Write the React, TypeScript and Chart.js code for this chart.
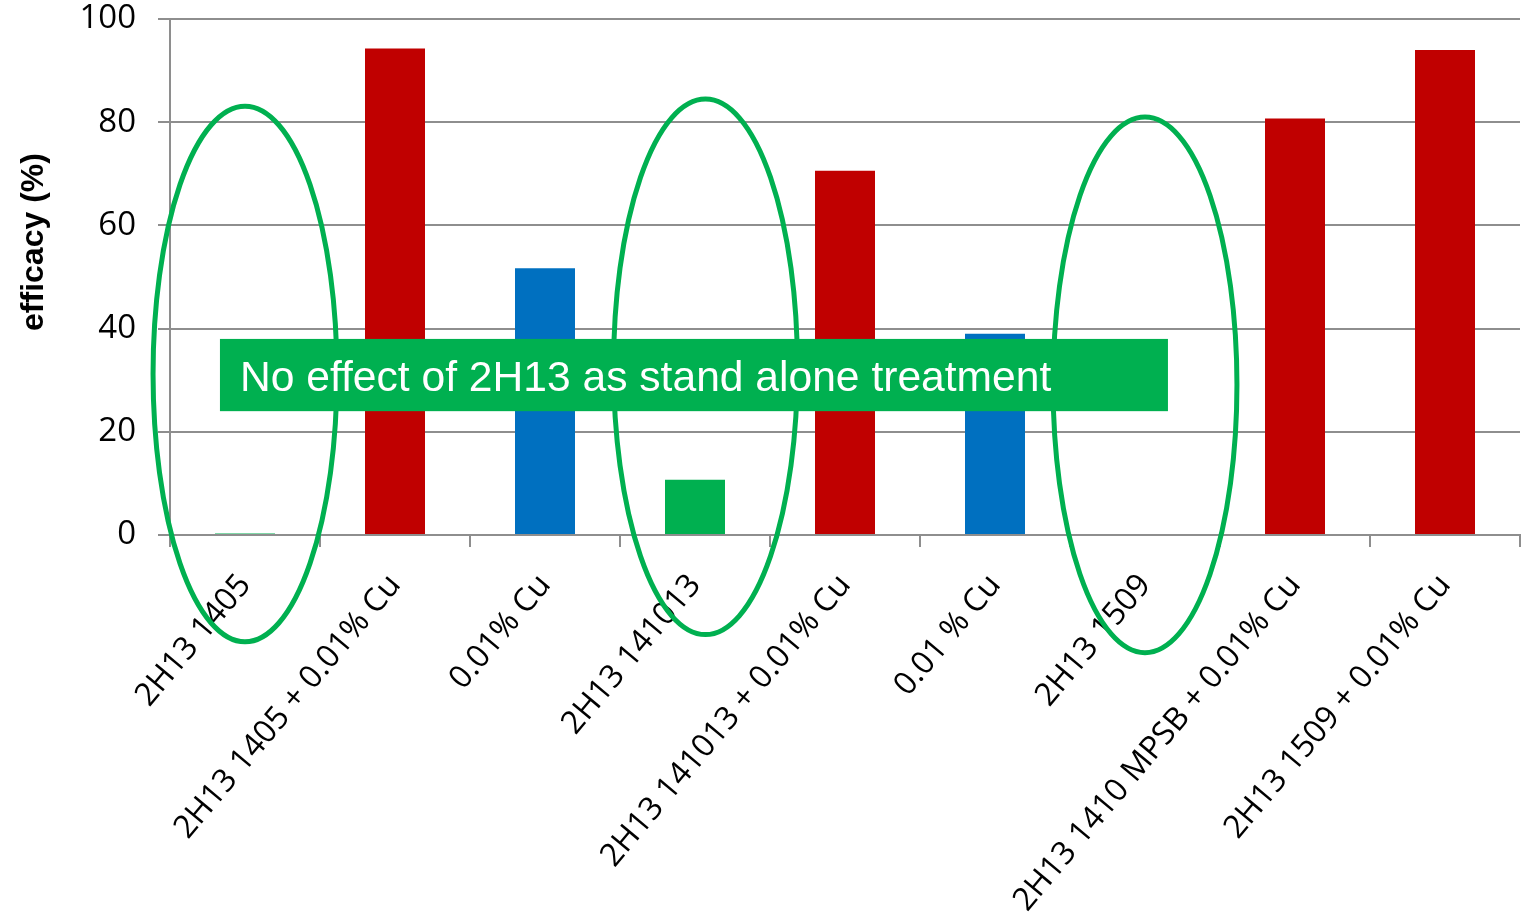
import React, { useEffect, useRef } from "react";
import { Chart, registerables } from "chart.js";

Chart.register(...registerables);

const categories = [
  "2H13 1405",
  "2H13 1405 + 0.01% Cu",
  "0.01% Cu",
  "2H13 141013",
  "2H13 141013 + 0.01% Cu",
  "0.01 % Cu",
  "2H13 1509",
  "2H13 1410 MPSB + 0.01% Cu",
  "2H13 1509 + 0.01% Cu",
];
const efficacy = [0.3, 94.3, 51.7, 10.7, 70.6, 39.0, 0, 80.7, 94.0];
const barColors = [
  "#00b050",
  "#c00000",
  "#0070c0",
  "#00b050",
  "#c00000",
  "#0070c0",
  "#00b050",
  "#c00000",
  "#c00000",
];
const yTicks = [0, 20, 40, 60, 80, 100];
const yTitle = "efficacy (%)";
const noteText = "No effect of 2H13 as stand alone treatment";

// Ellipses around the stand-alone treatments: center in category/value units, radii likewise
const highlightIndex = [0, 3, 6];
const highlightShift = [0, 0.07, 0];
const highlightCenterValue = [31.2, 32.6, 29.1];
const highlightRadiusCat = 0.613;
const highlightRadiusValue = 51.9;

// Callout box extents in category/value units
const noteLeftCat = -0.167;
const noteRightCat = 6.153;
const noteTopValue = 38.0;
const noteBottomValue = 24.0;

const GREEN = "#00b050";
const GRID = "#8e8e8e";
const LABEL_FONT = "'Open Sans', 'Liberation Sans', sans-serif";

const overlayPlugin = {
  id: "overlay",
  afterDraw(chart: any) {
    const { ctx, scales } = chart;
    const x = scales.x;
    const y = scales.y;
    const catW = x.getPixelForValue(1) - x.getPixelForValue(0);
    const valH = y.getPixelForValue(0) - y.getPixelForValue(1);

    ctx.save();
    // axis title
    ctx.translate(34, 242);
    ctx.rotate(-Math.PI / 2);
    ctx.fillStyle = "#000";
    ctx.font = "bold 32px 'Liberation Sans', Arial, sans-serif";
    ctx.textAlign = "center";
    ctx.textBaseline = "middle";
    ctx.fillText(yTitle, 0, 0);
    ctx.restore();

    // ellipses
    ctx.save();
    ctx.strokeStyle = GREEN;
    ctx.lineWidth = 5;
    highlightIndex.forEach((idx, i) => {
      const cx = x.getPixelForValue(idx) + highlightShift[i] * catW;
      const cy = y.getPixelForValue(highlightCenterValue[i]);
      ctx.beginPath();
      ctx.ellipse(cx, cy, highlightRadiusCat * catW, highlightRadiusValue * valH, 0, 0, Math.PI * 2);
      ctx.stroke();
    });
    ctx.restore();

    // callout box
    const bx0 = x.getPixelForValue(0) + noteLeftCat * catW;
    const bx1 = x.getPixelForValue(0) + noteRightCat * catW;
    const by0 = y.getPixelForValue(noteTopValue);
    const by1 = y.getPixelForValue(noteBottomValue);
    ctx.save();
    ctx.fillStyle = GREEN;
    ctx.fillRect(bx0, by0, bx1 - bx0, by1 - by0);
    ctx.fillStyle = "#ffffff";
    ctx.font = "42.6px 'Liberation Sans', Arial, sans-serif";
    ctx.textAlign = "left";
    ctx.textBaseline = "middle";
    ctx.fillText(noteText, bx0 + 20, (by0 + by1) / 2 + 4);
    ctx.restore();
  },
};

export default function App() {
  const canvasRef = useRef<HTMLCanvasElement | null>(null);

  useEffect(() => {
    if (!canvasRef.current) return;
    const chart = new Chart(canvasRef.current, {
      type: "bar",
      data: {
        labels: categories,
        datasets: [
          {
            data: efficacy,
            backgroundColor: barColors,
            borderWidth: 0,
            categoryPercentage: 1,
            barPercentage: 0.4,
          },
        ],
      },
      options: {
        animation: false,
        responsive: true,
        maintainAspectRatio: false,
        layout: { padding: { top: 19, right: 4, left: 0, bottom: 0 } },
        plugins: {
          legend: { display: false },
          tooltip: { enabled: false },
          title: { display: false },
        },
        scales: {
          x: {
            afterFit(scale: any) {
              scale.height = 384;
              scale.paddingLeft = 0;
              scale.paddingRight = 0;
            },
            grid: {
              display: true,
              offset: true,
              drawOnChartArea: false,
              drawTicks: true,
              tickLength: 12,
              color: GRID,
              lineWidth: 2,
            },
            border: { display: true, color: GRID, width: 2 },
            ticks: {
              autoSkip: false,
              maxRotation: 50,
              minRotation: 50,
              padding: 20,
              color: "#000",
              font: { family: LABEL_FONT, size: 32 },
            },
          },
          y: {
            min: 0,
            max: 100,
            afterFit(scale: any) {
              scale.width = 170;
              scale.paddingTop = 0;
              scale.paddingBottom = 0;
            },
            afterBuildTicks(scale: any) {
              scale.ticks = yTicks.map((v) => ({ value: v }));
            },
            grid: {
              color: GRID,
              lineWidth: 2,
              drawTicks: true,
              tickLength: 12,
            },
            border: { display: true, color: GRID, width: 2 },
            ticks: {
              padding: 22,
              color: "#000",
              font: { family: LABEL_FONT, size: 33 },
            },
          },
        },
      },
      plugins: [overlayPlugin],
    });
    return () => chart.destroy();
  }, []);

  return (
    <div style={{ position: "absolute", left: 0, top: 0, width: 1524, height: 919, background: "#fff" }}>
      <canvas ref={canvasRef} />
    </div>
  );
}
